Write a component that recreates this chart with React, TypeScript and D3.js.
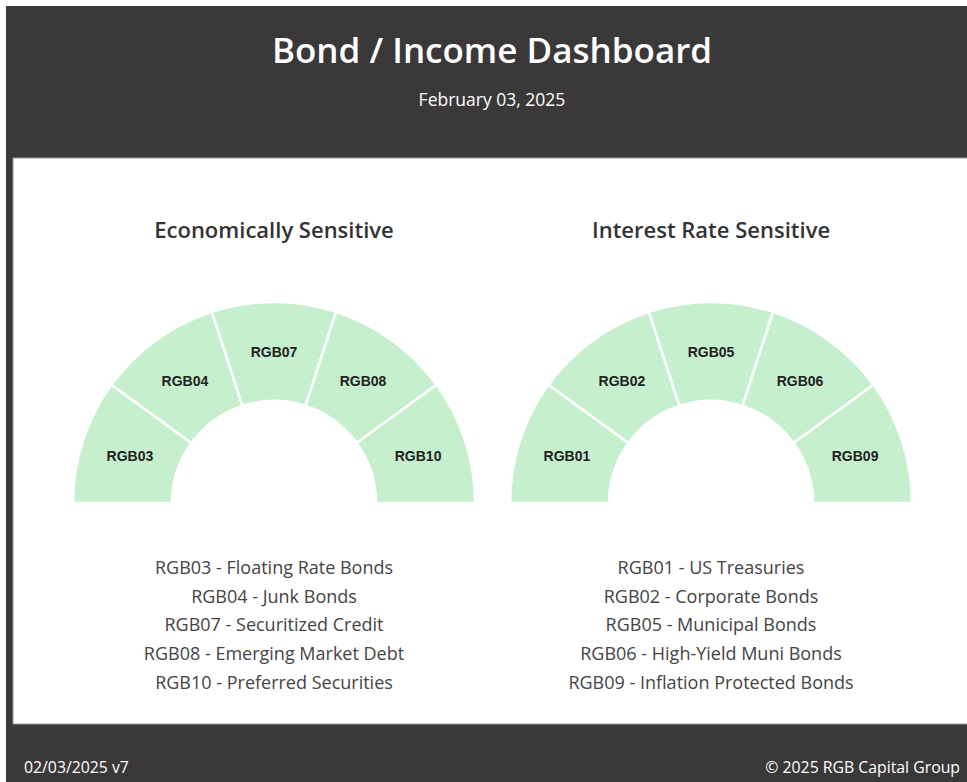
import React from "react";
import * as d3 from "d3";

const econCodes = ["RGB03", "RGB04", "RGB07", "RGB08", "RGB10"];
const econNames = ["Floating Rate Bonds", "Junk Bonds", "Securitized Credit", "Emerging Market Debt", "Preferred Securities"];
const econWeights = [1, 1, 1, 1, 1];

const rateCodes = ["RGB01", "RGB02", "RGB05", "RGB06", "RGB09"];
const rateNames = ["US Treasuries", "Corporate Bonds", "Municipal Bonds", "High-Yield Muni Bonds", "Inflation Protected Bonds"];
const rateWeights = [1, 1, 1, 1, 1];

const W = 967;
const H = 782;
const FONT = "'Open Sans', 'Noto Sans', sans-serif";

type GaugeProps = { cx: number; title: string; codes: string[]; names: string[]; weights: number[] };

function Gauge({ cx, title, codes, names, weights }: GaugeProps) {
  const cy = 503;
  const outer = 201;
  const inner = 102;
  const pie = d3
    .pie<number>()
    .sort(null)
    .startAngle(-Math.PI / 2)
    .endAngle(Math.PI / 2)
    .value((d) => d);
  const arcs = pie(weights);
  const arc = d3.arc<d3.PieArcDatum<number>>().innerRadius(inner).outerRadius(outer);
  const legendY = d3.scaleLinear().domain([0, 4]).range([569, 684]);
  return (
    <g>
      <text x={cx} y={232} textAnchor="middle" dominantBaseline="middle" fontFamily={FONT} fontWeight={600} fontSize={22} fill="#333">
        {title}
      </text>
      <g transform={`translate(${cx},${cy})`}>
        {arcs.map((a, i) => (
          <path key={i} d={arc(a) || ""} fill="#c6efce" stroke="#fff" strokeWidth={2.5} />
        ))}
        {arcs.map((a, i) => {
          const [x, y] = arc.centroid(a);
          return (
            <text key={"t" + i} x={x} y={y + 1.5} textAnchor="middle" dominantBaseline="middle" fontFamily="'Liberation Sans', Arial, sans-serif" fontWeight={700} fontSize={14} fill="#222">
              {codes[i]}
            </text>
          );
        })}
      </g>
      {codes.map((c, i) => (
        <text key={"l" + i} x={cx} y={legendY(i)} textAnchor="middle" dominantBaseline="middle" fontFamily={FONT} fontSize={18} fill="#444">
          {`${c} - ${names[i]}`}
        </text>
      ))}
    </g>
  );
}

export default function App() {
  return (
    <svg width={W} height={H} style={{ position: "absolute", left: 0, top: 0, display: "block" }}>
      <rect x={0} y={0} width={W} height={H} fill="#fff" />
      <rect x={6} y={6} width={W - 6} height={H - 6} fill="#3a3839" />
      <rect x={13} y={158} width={W} height={566} fill="#fff" stroke="#9a9a9a" strokeWidth={1} />
      <text x={492} y={54} textAnchor="middle" dominantBaseline="middle" fontFamily={FONT} fontWeight={600} fontSize={35} fill="#fff">
        Bond / Income Dashboard
      </text>
      <text x={492} y={101} textAnchor="middle" dominantBaseline="middle" fontFamily={FONT} fontSize={17.5} fill="#fff">
        February 03, 2025
      </text>
      <Gauge cx={274} title="Economically Sensitive" codes={econCodes} names={econNames} weights={econWeights} />
      <Gauge cx={711} title="Interest Rate Sensitive" codes={rateCodes} names={rateNames} weights={rateWeights} />
      <text x={24} y={769} dominantBaseline="middle" fontFamily={FONT} fontSize={15.8} fill="#fff">
        02/03/2025 v7
      </text>
      <text x={960} y={769} textAnchor="end" dominantBaseline="middle" fontFamily={FONT} fontSize={15.8} fill="#fff">
        © 2025 RGB Capital Group
      </text>
    </svg>
  );
}
